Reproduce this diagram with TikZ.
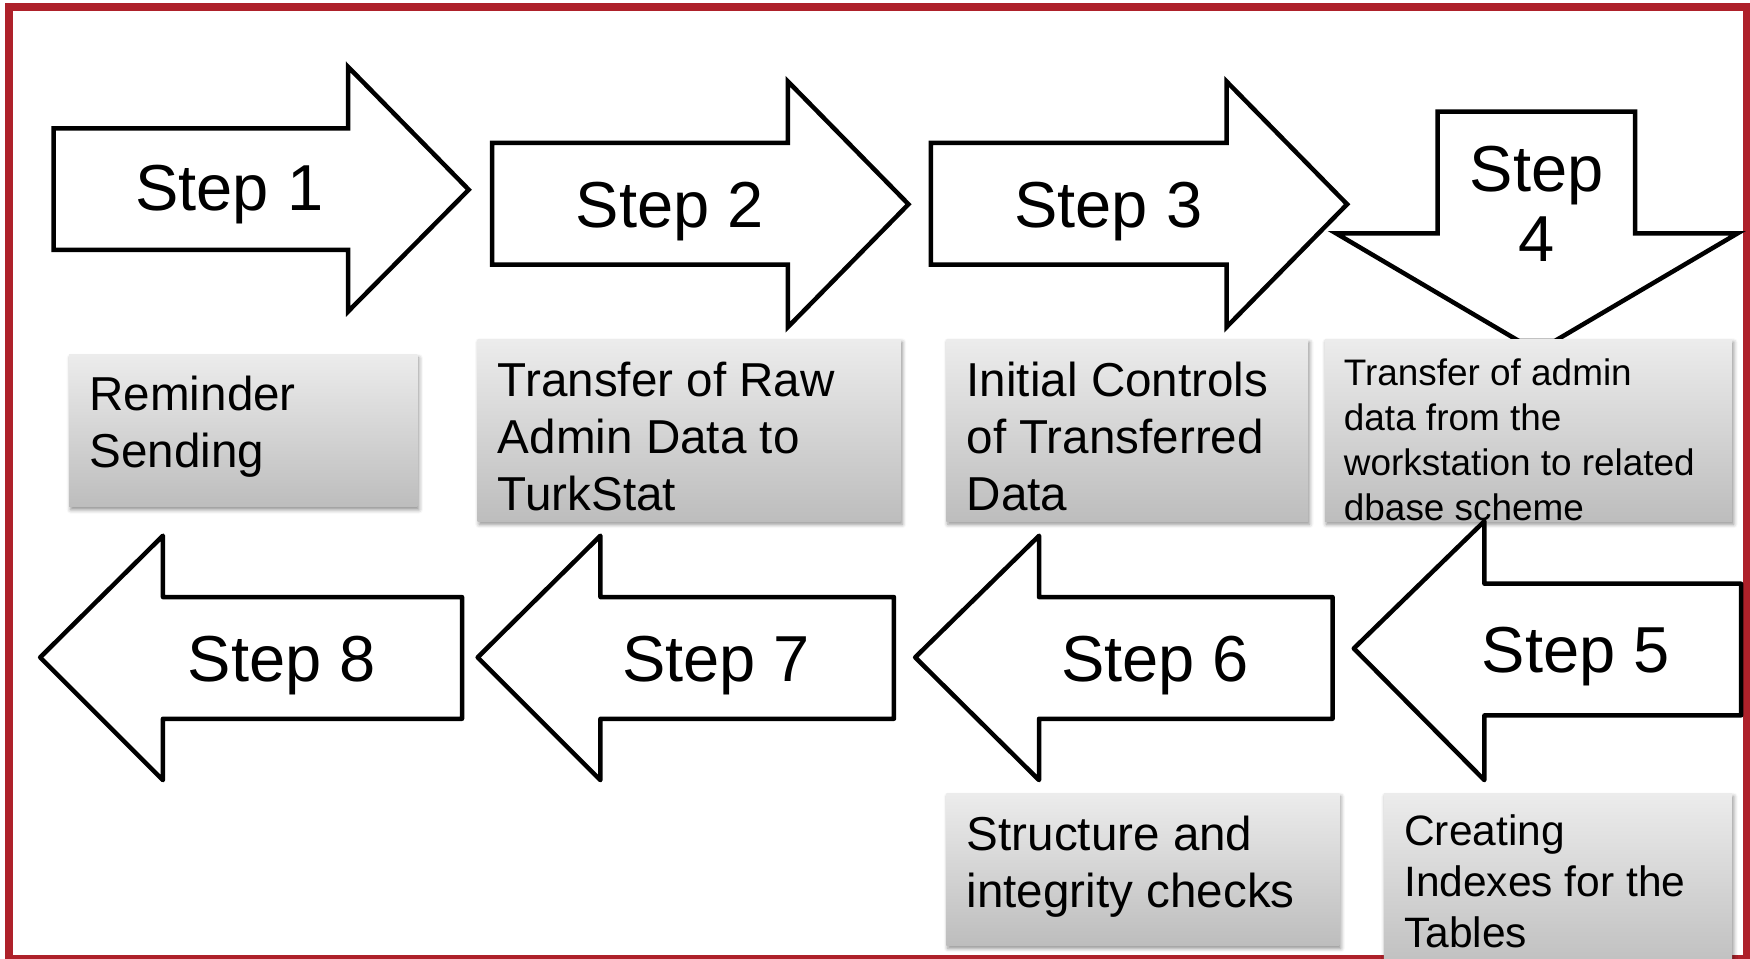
\documentclass[tikz,border=0pt]{standalone}
\usepackage{fontspec}
\setmainfont{Liberation Sans}
\usetikzlibrary{shadows.blur,fit}
\definecolor{framered}{RGB}{174,33,42}
\definecolor{boxtop}{RGB}{236,236,236}
\definecolor{boxbot}{RGB}{189,189,189}
\newcommand{\leftlines}[1]{\begin{tabular}[t]{@{}l@{}}#1\end{tabular}}
\newcommand{\centerlines}[1]{\begin{tabular}[t]{@{}c@{}}#1\end{tabular}}
\begin{document}
\begin{tikzpicture}[x=1.116071bp, y=-1.116071bp,
  stepshape/.style={draw=black, line width=4.5bp, fill=white, miter limit=10},
  steplabel/.style={inner sep=0, anchor=base, font=\fontsize{65bp}{70bp}\selectfont},
  infobox/.style={draw=none, inner sep=0, top color=boxtop, bottom color=boxbot,
    blur shadow={shadow xshift=1.5bp, shadow yshift=-3bp, shadow blur radius=4bp, shadow opacity=45}},
  infotext/.style={inner sep=0, anchor=base west, font=\fontsize{47.6bp}{57bp}\selectfont},
  smalltext/.style={infotext, font=\fontsize{36.9bp}{45bp}\selectfont},
  midtext/.style={infotext, font=\fontsize{42.5bp}{50.8bp}\selectfont}]
\useasboundingbox (0,0) rectangle (1568,859.27);
% outer frame
\draw[framered, line width=8bp] (8.06,6.27) rectangle (1565.3,859.3);

% upper row: steps 1-4
\draw[stepshape] (48,115) -- (312,115) -- (312,60) -- (420,170) -- (312,279) -- (312,224) -- (48,224) -- cycle;
\node[steplabel] (s1) at (205.5,189) {Step 1};
\draw[stepshape] (441,128) -- (706,128) -- (706,73) -- (814,183) -- (706,293) -- (706,237) -- (441,237) -- cycle;
\node[steplabel] (s2) at (600,204) {Step 2};
\draw[stepshape] (834,128) -- (1099,128) -- (1099,73) -- (1207,183) -- (1099,293) -- (1099,237) -- (834,237) -- cycle;
\node[steplabel] (s3) at (993,204) {Step 3};
\draw[stepshape] (1288,100) -- (1465,100) -- (1465,209) -- (1557,209) -- (1377,315) -- (1197,209) -- (1288,209) -- cycle;
\node[steplabel] (s4) at (1377,172) {\centerlines{Step\\4}};

% descriptions under steps 1-4
\node[infobox, fit={(62,318) (374,454)}] (b1) {};
\node[infotext] (t1) at (80,368) {\leftlines{Reminder\\Sending}};
\node[infobox, fit={(428,304) (807,467)}] (b2) {};
\node[infotext] (t2) at (446,355) {\leftlines{Transfer of Raw\\Admin Data to\\TurkStat}};
\node[infobox, fit={(848,304) (1172,467)}] (b3) {};
\node[infotext] (t3) at (866,355) {\leftlines{Initial Controls\\of Transferred\\Data}};
\node[infobox, fit={(1187,304) (1552,467)}] (b4) {};
\node[smalltext] (t4) at (1204,345) {\leftlines{Transfer of admin\\data from the\\workstation to related\\dbase scheme}};

% lower row: steps 5-8
\begin{scope}[line join=round]
\draw[stepshape] (36,589) -- (146,480) -- (146,535) -- (414,535) -- (414,644) -- (146,644) -- (146,699) -- cycle;
\node[steplabel] (s8) at (252.5,611) {Step 8};
\draw[stepshape] (428,589) -- (538,480) -- (538,535) -- (801,535) -- (801,644) -- (538,644) -- (538,699) -- cycle;
\node[steplabel] (s7) at (641.5,611) {Step 7};
\draw[stepshape] (820,589) -- (931,480) -- (931,535) -- (1194,535) -- (1194,644) -- (931,644) -- (931,699) -- cycle;
\node[steplabel] (s6) at (1035,611) {Step 6};
\draw[stepshape] (1213,581) -- (1330,467) -- (1330,523) -- (1560,523) -- (1560,641) -- (1330,641) -- (1330,699) -- cycle;
\node[steplabel] (s5) at (1412,603) {Step 5};
\end{scope}

% descriptions under steps 6 and 5
\node[infobox, fit={(848,711) (1200,847)}] (b6) {};
\node[infotext] (t6) at (866,762) {\leftlines{Structure and\\integrity checks}};
\node[infobox, fit={(1240,711) (1552,875)}] (b5) {};
\node[midtext] (t5) at (1258,757.5) {\leftlines{Creating\\Indexes for the\\Tables}};
\end{tikzpicture}
\end{document}
